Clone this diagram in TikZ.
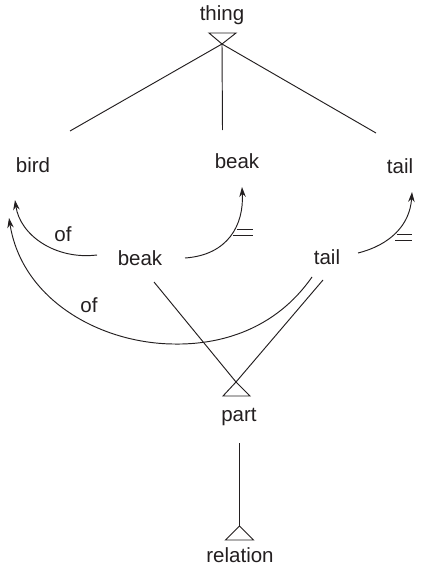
\documentclass[tikz,border=0pt]{standalone}
\usepackage{fontspec}
\setmainfont{Liberation Sans}
\usetikzlibrary{arrows.meta}
\definecolor{ink}{HTML}{231F20}
\begin{document}
\begin{tikzpicture}[x=1pt,y=-1pt,
  lbl/.style={font=\fontsize{20.5}{24}\selectfont, text=ink, inner sep=1pt},
  ln/.style={line width=0.95pt, draw=ink},
  arr/.style={ln,-{Stealth[length=10pt,width=6.5pt]}},
  eqmark/.style={line width=0.95pt, draw=ink}]
\useasboundingbox (0,0) rectangle (427,567);
% labels
\node[lbl] (thing) at (222,15) {thing};
\node[lbl] (bird) at (33,165) {bird};
\node[lbl] (beakU) at (237,161) {beak};
\node[lbl] (tailU) at (400,166) {tail};
\node[lbl] (beakL) at (140,258) {beak};
\node[lbl] (tailL) at (327,257) {tail};
\node[lbl] (part) at (239,417) {part};
\node[lbl] (relation) at (240,555) {relation};
\node[lbl] (of1) at (63,234) {of};
\node[lbl] (of2) at (89,305) {of};
% anchor coordinates
\coordinate (ta) at (222,44);
\coordinate (birdTop) at (70,131);
\coordinate (beakTop) at (222.5,130);
\coordinate (tailTop) at (376,133);
\coordinate (pa) at (236,382);
\coordinate (ra) at (239.5,526);
\coordinate (partBot) at (239.5,443);
\coordinate (bl1) at (154,282);
\coordinate (tl1) at (312,277);
\coordinate (tl2) at (323,280);
\coordinate (of1s) at (97,255);
\coordinate (of1e) at (15,200);
\coordinate (of2e) at (9,218);
\coordinate (eqBs) at (185,258);
\coordinate (eqBe) at (242,187);
\coordinate (eqTs) at (358,253);
\coordinate (eqTe) at (412,192);
\coordinate (arcB) at (173,344);
% thing triangle (inverted)
\draw[ln, line join=miter] (209,33) -- (236,33) -- (ta) -- cycle;
\draw[ln] (ta) -- (birdTop);
\draw[ln] (ta) -- (beakTop);
\draw[ln] (ta) -- (tailTop);
% part triangle
\draw[ln, line join=miter] (pa) -- (250,396) -- (223,396) -- cycle;
\draw[ln] (bl1) -- (pa);
\draw[ln] (tl2) -- (pa);
% relation triangle
\draw[ln, line join=miter] (ra) -- (253.5,540) -- (225.5,540) -- cycle;
\draw[ln] (partBot) -- (ra);
% of curves
\draw[arr] (of1s) .. controls (55,260) and (20,235) .. (of1e);
\draw[arr] (tl1) .. controls (275,330) and (220,345) .. (arcB)
  .. controls (100,343) and (22,300) .. (of2e);
% identity curves
\draw[arr] (eqBs) .. controls (228,255) and (244,225) .. (eqBe);
\draw[eqmark] (237,229) -- (253,229);
\draw[eqmark] (233,235) -- (253,235);
\draw[arr] (eqTs) .. controls (390,245) and (410,225) .. (eqTe);
\draw[eqmark] (397,234) -- (412,234);
\draw[eqmark] (395,240) -- (412,240);
\end{tikzpicture}
\end{document}
